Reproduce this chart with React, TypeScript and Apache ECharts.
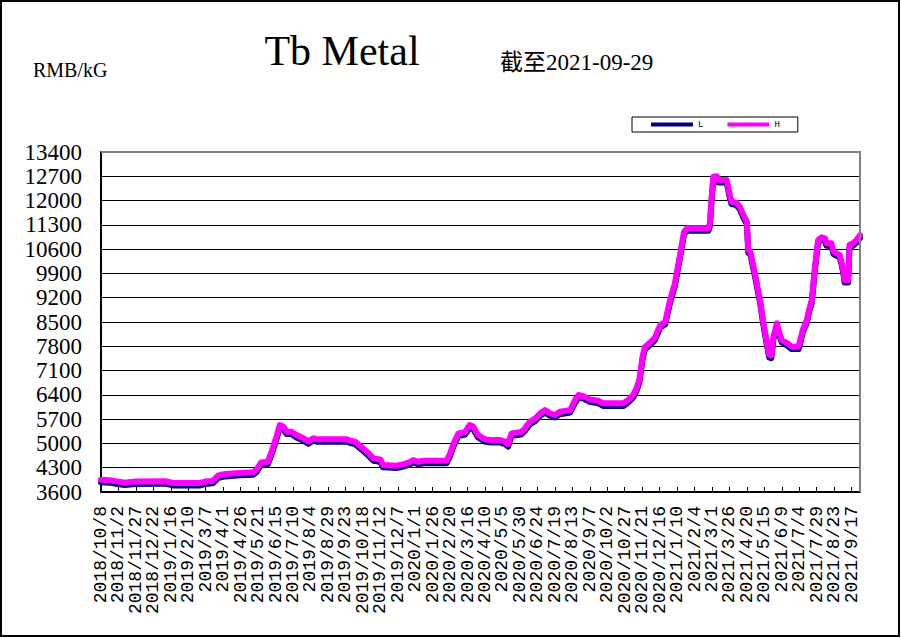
import React, { useEffect, useRef } from "react";
import * as echarts from "echarts";

const tickLabels = [
  "2018/10/8", "2018/11/2", "2018/11/27", "2018/12/22", "2019/1/16", "2019/2/10", "2019/3/7",
  "2019/4/1", "2019/4/26", "2019/5/21", "2019/6/15", "2019/7/10", "2019/8/4", "2019/8/29",
  "2019/9/23", "2019/10/18", "2019/11/12", "2019/12/7", "2020/1/1", "2020/1/26", "2020/2/20",
  "2020/3/16", "2020/4/10", "2020/5/5", "2020/5/30", "2020/6/24", "2020/7/19", "2020/8/13",
  "2020/9/7", "2020/10/2", "2020/10/27", "2020/11/21", "2020/12/16", "2021/1/10", "2021/2/4",
  "2021/3/1", "2021/3/26", "2021/4/20", "2021/5/15", "2021/6/9", "2021/7/4", "2021/7/29",
  "2021/8/23", "2021/9/17",
];
const firstDate = "2018/10/8";
const lastDate = "2021/9/29";
const tickStepDays = 25;

const dates = [
  "2018/10/8", "2018/10/21", "2018/11/1", "2018/11/11", "2018/11/26", "2019/1/8", "2019/1/19",
  "2019/2/27", "2019/3/6", "2019/3/17", "2019/3/25", "2019/4/4", "2019/4/25", "2019/5/14",
  "2019/5/19", "2019/5/25", "2019/6/4", "2019/6/10", "2019/6/17", "2019/6/21", "2019/6/26",
  "2019/7/1", "2019/7/8", "2019/7/15", "2019/7/25", "2019/8/1", "2019/8/8", "2019/8/13",
  "2019/9/25", "2019/9/30", "2019/10/7", "2019/10/16", "2019/10/26", "2019/11/2", "2019/11/12",
  "2019/11/16", "2019/12/5", "2019/12/15", "2019/12/25", "2019/12/29", "2020/1/5", "2020/1/13",
  "2020/2/15", "2020/2/20", "2020/2/25", "2020/3/3", "2020/3/12", "2020/3/19", "2020/3/24",
  "2020/3/31", "2020/4/10", "2020/4/17", "2020/5/1", "2020/5/9", "2020/5/13", "2020/5/18",
  "2020/6/1", "2020/6/6", "2020/6/13", "2020/6/21", "2020/6/28", "2020/7/5", "2020/7/12",
  "2020/7/19", "2020/7/26", "2020/8/10", "2020/8/17", "2020/8/22", "2020/8/29", "2020/9/7",
  "2020/9/19", "2020/9/26", "2020/10/25", "2020/11/1", "2020/11/8", "2020/11/13", "2020/11/17",
  "2020/11/19", "2020/11/22", "2020/11/25", "2020/12/2", "2020/12/9", "2020/12/17", "2020/12/24",
  "2020/12/31", "2021/1/7", "2021/1/14", "2021/1/20", "2021/1/24", "2021/2/24", "2021/2/26",
  "2021/3/1", "2021/3/3", "2021/3/8", "2021/3/10", "2021/3/22", "2021/3/26", "2021/3/29",
  "2021/4/5", "2021/4/10", "2021/4/15", "2021/4/20", "2021/4/22", "2021/4/25", "2021/5/2",
  "2021/5/6", "2021/5/9", "2021/5/13", "2021/5/18", "2021/5/22", "2021/5/25", "2021/5/28",
  "2021/6/2", "2021/6/5", "2021/6/9", "2021/6/16", "2021/6/23", "2021/7/3", "2021/7/5",
  "2021/7/9", "2021/7/15", "2021/7/18", "2021/7/22", "2021/7/26", "2021/7/31", "2021/8/5",
  "2021/8/10", "2021/8/12", "2021/8/19", "2021/8/22", "2021/8/31", "2021/9/3", "2021/9/5",
  "2021/9/7", "2021/9/12", "2021/9/14", "2021/9/19", "2021/9/24", "2021/9/29",
];

const highValues = [
  3950, 3940, 3900, 3870, 3900, 3910, 3860,
  3860, 3900, 3920, 4080, 4120, 4150, 4170,
  4250, 4450, 4470, 4800, 5240, 5530, 5490,
  5340, 5340, 5240, 5150, 5060, 5150, 5120,
  5120, 5080, 5050, 4900, 4720, 4570, 4540,
  4380, 4360, 4400, 4470, 4520, 4470, 4500,
  4500, 4710, 5000, 5290, 5320, 5530, 5490,
  5240, 5120, 5100, 5100, 5050, 4980, 5290,
  5330, 5430, 5625, 5720, 5870, 5960, 5870,
  5820, 5915, 5960, 6250, 6395, 6365, 6270,
  6230, 6155, 6155, 6250, 6395, 6590, 6830,
  7115, 7550, 7780, 7900, 8040, 8410, 8500,
  9130, 9620, 10400, 11100, 11200, 11200, 11345,
  12210, 12690, 12700, 12590, 12590, 12210, 11970,
  11940, 11820, 11580, 11390, 10570, 10520, 9850,
  9420, 9130, 8560, 7980, 7550, 7530, 8075,
  8460, 8220, 7980, 7900, 7790, 7790, 7930,
  8270, 8560, 8850, 9130, 9990, 10860, 10940,
  10910, 10770, 10770, 10530, 10430, 10190, 9990,
  9710, 9710, 10720, 10770, 10860, 11000,
];

const lowValues = [
  3880, 3870, 3830, 3800, 3830, 3840, 3790,
  3790, 3830, 3850, 4010, 4050, 4080, 4100,
  4180, 4380, 4400, 4730, 5170, 5450, 5420,
  5270, 5270, 5170, 5080, 4990, 5080, 5050,
  5050, 5010, 4980, 4830, 4650, 4500, 4470,
  4310, 4290, 4330, 4400, 4450, 4400, 4430,
  4430, 4640, 4930, 5220, 5250, 5450, 5420,
  5170, 5050, 5030, 5030, 4980, 4910, 5220,
  5260, 5360, 5550, 5650, 5800, 5890, 5800,
  5750, 5840, 5890, 6180, 6320, 6290, 6200,
  6160, 6080, 6080, 6180, 6320, 6520, 6760,
  7040, 7480, 7710, 7830, 7970, 8340, 8430,
  9060, 9550, 10330, 11030, 11130, 11130, 11270,
  12140, 12620, 12630, 12520, 12520, 12140, 11900,
  11870, 11750, 11510, 11320, 10500, 10450, 9780,
  9350, 9060, 8490, 7910, 7480, 7460, 8000,
  8390, 8150, 7910, 7830, 7720, 7720, 7860,
  8200, 8490, 8780, 9060, 9920, 10790, 10870,
  10840, 10700, 10700, 10460, 10360, 10120, 9920,
  9640, 9640, 10650, 10700, 10790, 10930,
];

const yMin = 3600;
const yMax = 13400;
const yStep = 700;

const titleText = "Tb Metal";
const subtitleText = "截至2021-09-29";
const unitText = "RMB/kG";

function dayIndex(s: string): number {
  const [a, b] = [s, firstDate].map((t) => {
    const [y, m, d] = t.split("/").map(Number);
    return Date.UTC(y, m - 1, d);
  });
  return Math.round((a - b) / 86400000);
}

const GRID = { left: 101, top: 152, right: 860, bottom: 492 };

const xLabelStyle = {
  rotate: 90,
  margin: 14,
  fontFamily: "Liberation Mono",
  fontSize: 18,
  lineHeight: 13,
  color: "#000",
  hideOverlap: false,
};

export default function App() {
  const ref = useRef<HTMLDivElement>(null);
  useEffect(() => {
    if (!ref.current) return;
    const chart = echarts.init(ref.current, undefined, { renderer: "svg" });
    const maxDay = dayIndex(lastDate);
    const labelFor = (v: number) => {
      if (v % tickStepDays !== 0) return "";
      return tickLabels[v / tickStepDays] ?? "";
    };
    const option: any = {
      animation: false,
      backgroundColor: "#ffffff",
      textStyle: { fontFamily: "Liberation Serif" },
      grid: {
        left: GRID.left,
        top: GRID.top,
        width: GRID.right - GRID.left,
        height: GRID.bottom - GRID.top,
        containLabel: false,
      },
      legend: {
        left: 632,
        top: 117,
        orient: "horizontal",
        borderColor: "#000",
        borderWidth: 1,
        padding: [3, 18, 3, 19],
        itemGap: 24,
        itemWidth: 42,
        itemHeight: 4,
        icon: "rect",
        textStyle: { fontFamily: "Liberation Mono", fontSize: 9, color: "#000" },
        data: ["L", "H"],
      },
      xAxis: [
        {
          type: "value",
          min: 0,
          max: maxDay,
          interval: tickStepDays,
          axisLine: { show: true, lineStyle: { color: "#000", width: 2 } },
          axisTick: { show: true, inside: true, length: 5, lineStyle: { color: "#000", width: 1 } },
          splitLine: { show: false },
          axisLabel: {
            ...xLabelStyle,
            showMinLabel: false,
            showMaxLabel: false,
            formatter: labelFor,
          },
        },
        {
          type: "value",
          position: "bottom",
          min: 0,
          max: maxDay,
          interval: tickStepDays,
          axisLine: { show: false },
          axisTick: { show: false },
          splitLine: { show: false },
          axisLabel: {
            ...xLabelStyle,
            showMinLabel: true,
            showMaxLabel: false,
            formatter: (v: number) => (v === 0 ? tickLabels[0] : ""),
          },
        },
      ],
      yAxis: {
        type: "value",
        min: yMin,
        max: yMax,
        interval: yStep,
        axisLine: { show: true, lineStyle: { color: "#000", width: 2 } },
        axisTick: { show: false },
        splitLine: { show: true, lineStyle: { color: "#000", width: 1 } },
        axisLabel: {
          margin: 19,
          fontFamily: "Liberation Serif",
          fontSize: 23,
          color: "#000",
          formatter: (v: number) => String(v),
        },
      },
      series: [
        {
          name: "L",
          type: "line",
          xAxisIndex: 0,
          symbol: "none",
          color: "#000080",
          lineStyle: { color: "#000080", width: 6, join: "round", cap: "round" },
          data: dates.map((d, i) => [dayIndex(d), lowValues[i]]),
          z: 2,
        },
        {
          name: "H",
          type: "line",
          xAxisIndex: 0,
          symbol: "none",
          color: "#ff00ff",
          lineStyle: { color: "#ff00ff", width: 6, join: "round", cap: "round" },
          data: dates.map((d, i) => [dayIndex(d), highValues[i]]),
          z: 3,
        },
      ],
      graphic: [
        {
          type: "polyline",
          z: 100,
          shape: {
            points: [
              [GRID.left, GRID.top],
              [GRID.right, GRID.top],
              [GRID.right, GRID.bottom],
            ],
          },
          style: { stroke: "#808080", lineWidth: 2, fill: "none" },
        },
        {
          type: "rect",
          z: 100,
          shape: { x: 1, y: 1, width: 898, height: 635 },
          style: { stroke: "#000", lineWidth: 2, fill: "none" },
        },
        {
          type: "text",
          left: 33,
          top: 60,
          style: { text: unitText, fontFamily: "Liberation Serif", fontSize: 20, fill: "#000" },
        },
        {
          type: "text",
          x: 342,
          y: 72,
          style: {
            text: titleText,
            fontFamily: "Liberation Serif",
            fontSize: 42,
            fill: "#000",
            align: "center",
            verticalAlign: "bottom",
          },
        },
        {
          type: "text",
          x: 500,
          y: 74,
          style: {
            text: subtitleText,
            fontFamily: "Liberation Serif, Noto Sans CJK SC",
            fontSize: 23,
            fill: "#000",
            align: "left",
            verticalAlign: "bottom",
          },
        },
      ],
    };
    chart.setOption(option);
    return () => chart.dispose();
  }, []);
  return (
    <div
      ref={ref}
      style={{ position: "absolute", left: 0, top: 0, width: 901, height: 638, background: "#fff" }}
    />
  );
}
